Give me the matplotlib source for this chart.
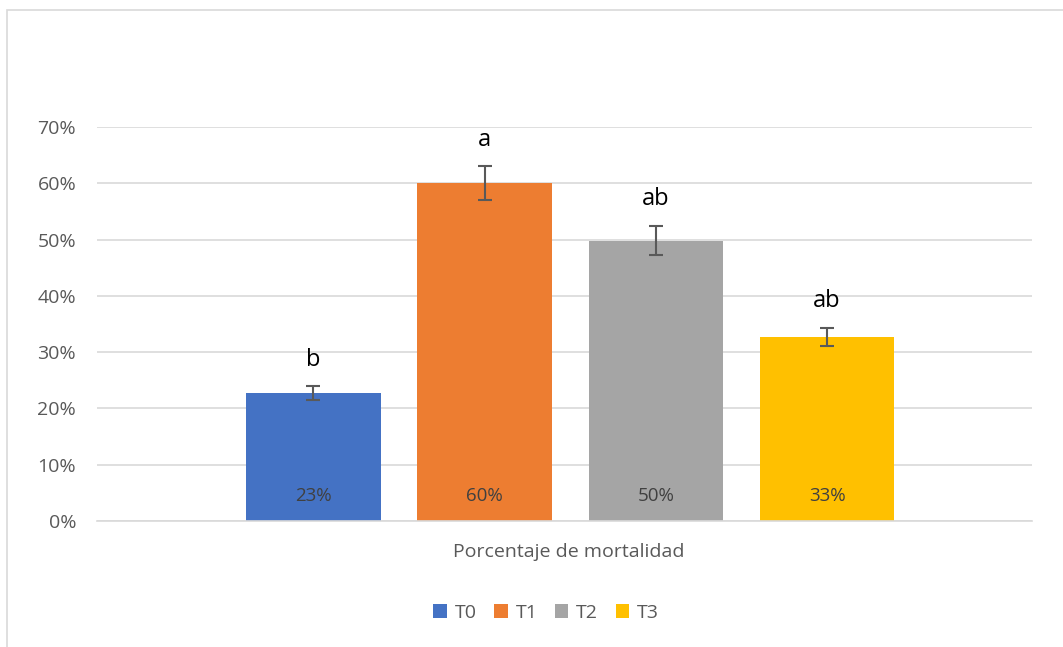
import matplotlib.pyplot as plt
from matplotlib.patches import Rectangle, Patch
from matplotlib.ticker import PercentFormatter

plt.rcParams['font.family'] = ['Open Sans', 'DejaVu Sans']

# Data
series = ['T0', 'T1', 'T2', 'T3']
values = [0.227, 0.600, 0.498, 0.327]
errors = [0.012, 0.030, 0.026, 0.016]
letters = ['b', 'a', 'ab', 'ab']
value_labels = ['23%', '60%', '50%', '33%']
category = 'Porcentaje de mortalidad'
colors = ['#4472C4', '#ED7D31', '#A5A5A5', '#FFC000']

fig = plt.figure(figsize=(10.63, 6.47), dpi=100)
ax = fig.add_axes([97 / 1063, 1 - 521 / 647, (1032 - 97) / 1063, (521 - 127) / 647])

# outer chart border like the Excel chart area
fig.patches.append(Rectangle((7 / 1063, -0.01), 1.02, 1 - 10 / 647 + 0.01,
                             transform=fig.transFigure, fill=False,
                             edgecolor='#D9D9D9', linewidth=1.2))

xs = list(range(len(series)))
bars = ax.bar(xs, values, width=0.785, color=colors, zorder=2)
ax.errorbar(xs, values, yerr=errors, fmt='none', ecolor='#595959',
            elinewidth=1.5, capsize=5, capthick=1.5, zorder=3)

for x, v, e, lab, vl in zip(xs, values, errors, letters, value_labels):
    ax.annotate(lab, (x, v + e), textcoords='offset points', xytext=(0, 15),
                ha='center', va='baseline', fontsize=17, color='black',
                annotation_clip=False)
    ax.text(x, 0.044, vl, ha='center', va='center', fontsize=13.5, color='#404040')

ax.set_xlim(-1.263, 4.196)
ax.set_ylim(0, 0.70)
ax.set_yticks([i / 10 for i in range(8)])
ax.yaxis.set_major_formatter(PercentFormatter(1.0, decimals=0))
ax.tick_params(axis='y', length=0, labelsize=14, labelcolor='#595959', pad=15)
ax.set_xticks([])
ax.grid(axis='y', color='#D9D9D9', linewidth=1.2, zorder=0)
for s in ['top', 'right', 'left']:
    ax.spines[s].set_visible(False)
ax.spines['bottom'].set_color('#D9D9D9')
ax.spines['bottom'].set_linewidth(1.2)

fig.text(569 / 1063, 1 - 552 / 647, category, ha='center', va='center',
         fontsize=14, color='#595959')

handles = [Patch(facecolor=c, edgecolor='none') for c in colors]
fig.legend(handles, series, loc='center', bbox_to_anchor=(546 / 1063, 1 - 613 / 647),
           ncol=4, frameon=False, fontsize=14, labelcolor='#595959',
           handlelength=0.7, handleheight=0.7, handletextpad=0.4, columnspacing=0.9)

fig.savefig('out.png', dpi=100)
